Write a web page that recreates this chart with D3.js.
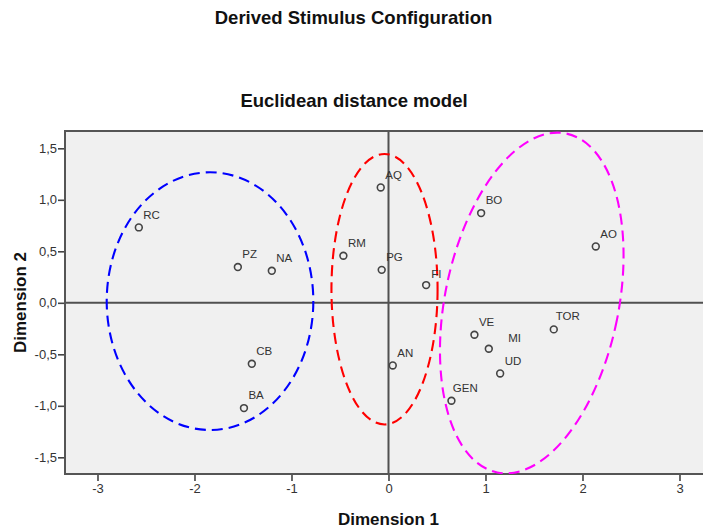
<!DOCTYPE html>
<html>
<head>
<meta charset="utf-8">
<script src="https://cdn.jsdelivr.net/npm/d3@7"></script>
<style>
  html, body { margin: 0; padding: 0; background: #fff; }
  svg { display: block; font-family: Arial, "Liberation Sans", Helvetica, sans-serif; }
</style>
</head>
<body>
<script>
// ---- data ----
const stimuli = ["RC", "PZ", "NA", "RM", "AQ", "PG", "FI", "BO", "AO", "VE", "TOR", "MI", "UD", "AN", "GEN", "CB", "BA"];
const dim1 =    [-2.574, -1.553, -1.203, -0.465, -0.080, -0.070, 0.388, 0.955, 2.137, 0.886, 1.704, 1.034, 1.151, 0.044, 0.649, -1.409, -1.490];
const dim2 =    [0.732, 0.347, 0.311, 0.457, 1.120, 0.320, 0.172, 0.871, 0.547, -0.310, -0.258, -0.446, -0.686, -0.608, -0.951, -0.592, -1.022];

// cluster ellipses (data units): centre, radii, rotation (degrees)
const ellipseNames = ["west", "centre", "east"];
const ellipseCx =    [-1.840, -0.041, 1.477];
const ellipseCy =    [0.016, 0.132, -0.002];
const ellipseRx =    [1.065, 0.547, 0.895];
const ellipseRy =    [1.251, 1.313, 1.679];
const ellipseRot =   [0, 0, 11.5];
const ellipseColors = ["#0000ff", "#ff0000", "#ff00ff"];

const xTicks = [-3, -2, -1, 0, 1, 2, 3];
const xTickLabels = ["-3", "-2", "-1", "0", "1", "2", "3"];
const yTicks = [-1.5, -1.0, -0.5, 0.0, 0.5, 1.0, 1.5];
const yTickLabels = ["-1,5", "-1,0", "-0,5", "0,0", "0,5", "1,0", "1,5"];

const xDomain = [-3.335, 3.32];
const yDomain = [-1.662, 1.668];

const mainTitle = "Derived Stimulus Configuration";
const subTitle = "Euclidean distance model";
const xTitle = "Dimension 1";
const yTitle = "Dimension 2";

// ---- layout ----
const W = 703, H = 530;
const plot = { left: 65, top: 131, bottom: 474 };
const pxPerX = 97;
plot.right = plot.left + (xDomain[1] - xDomain[0]) * pxPerX;

const svg = d3.select("body").append("svg").attr("width", W).attr("height", H);

const x = d3.scaleLinear().domain(xDomain).range([plot.left, plot.right]);
const y = d3.scaleLinear().domain(yDomain).range([plot.bottom, plot.top]);

// titles
svg.append("text").attr("x", 353.5).attr("y", 24).attr("text-anchor", "middle")
  .attr("font-size", "18.5px").attr("font-weight", "bold").attr("fill", "#111").text(mainTitle);
svg.append("text").attr("x", 354).attr("y", 106.5).attr("text-anchor", "middle")
  .attr("font-size", "18.5px").attr("font-weight", "bold").attr("fill", "#111").text(subTitle);

// plot background
svg.append("rect").attr("x", plot.left).attr("y", plot.top)
  .attr("width", plot.right - plot.left).attr("height", plot.bottom - plot.top)
  .attr("fill", "#f0f0f0");

svg.append("clipPath").attr("id", "clip").append("rect")
  .attr("x", plot.left).attr("y", plot.top)
  .attr("width", plot.right - plot.left).attr("height", plot.bottom - plot.top);

// reference lines
const g = svg.append("g").attr("clip-path", "url(#clip)");
g.append("line").attr("x1", x(0)).attr("x2", x(0)).attr("y1", plot.top).attr("y2", plot.bottom)
  .attr("stroke", "#505050").attr("stroke-width", 2);
g.append("line").attr("x1", plot.left).attr("x2", plot.right).attr("y1", y(0)).attr("y2", y(0))
  .attr("stroke", "#505050").attr("stroke-width", 2);

// axes
const xAxis = d3.axisBottom(x).tickValues(xTicks).tickSize(7).tickPadding(3)
  .tickFormat((d, i) => xTickLabels[i]);
const yAxis = d3.axisLeft(y).tickValues(yTicks).tickSize(7).tickPadding(1)
  .tickFormat((d, i) => yTickLabels[i]);

const gx = svg.append("g").attr("transform", `translate(0,${plot.bottom})`).call(xAxis);
const gy = svg.append("g").attr("transform", `translate(${plot.left},0)`).call(yAxis);
[gx, gy].forEach(ax => {
  ax.select(".domain").remove();
  ax.selectAll(".tick line").attr("stroke", "#444").attr("stroke-width", 1.6);
  ax.selectAll(".tick text").attr("font-size", "13px").attr("fill", "#333")
    .attr("font-family", "Arial, 'Liberation Sans', sans-serif");
});

// plot frame (left, top, bottom)
svg.append("path")
  .attr("d", `M${plot.right},${plot.top}H${plot.left}V${plot.bottom}H${plot.right}`)
  .attr("fill", "none").attr("stroke", "#555").attr("stroke-width", 2);

// axis titles
svg.append("text").attr("x", x(0)).attr("y", 525).attr("text-anchor", "middle")
  .attr("font-size", "17px").attr("font-weight", "bold").attr("fill", "#111").text(xTitle);
svg.append("text").attr("transform", `translate(26,${(plot.top + plot.bottom) / 2}) rotate(-90)`)
  .attr("text-anchor", "middle")
  .attr("font-size", "17px").attr("font-weight", "bold").attr("fill", "#111").text(yTitle);

// ellipses
const eg = svg.append("g").attr("clip-path", "url(#clip)");
ellipseNames.forEach((n, i) => {
  const cx = x(ellipseCx[i]), cy = y(ellipseCy[i]);
  eg.append("ellipse")
    .attr("cx", cx).attr("cy", cy)
    .attr("rx", x(ellipseCx[i] + ellipseRx[i]) - cx)
    .attr("ry", cy - y(ellipseCy[i] + ellipseRy[i]))
    .attr("transform", `rotate(${ellipseRot[i]},${cx},${cy})`)
    .attr("fill", "none").attr("stroke", ellipseColors[i]).attr("stroke-width", 2.1)
    .attr("stroke-dasharray", "11,6");
});

// points
const pts = stimuli.map((s, i) => ({ name: s, d1: dim1[i], d2: dim2[i] }));
svg.append("g").selectAll("circle").data(pts).join("circle")
  .attr("cx", d => x(d.d1)).attr("cy", d => y(d.d2)).attr("r", 3.4)
  .attr("fill", "none").attr("stroke", "#444").attr("stroke-width", 1.6);

// labels (label placement nudges, pixels)
const nudge = { MI: [19.5, -6.5], TOR: [2, -9.3], GEN: [1.4, -8.7], FI: [5, -6.8] };
svg.append("g").selectAll("text").data(pts).join("text")
  .attr("x", d => x(d.d1) + (nudge[d.name] ? nudge[d.name][0] : 4.5))
  .attr("y", d => y(d.d2) + (nudge[d.name] ? nudge[d.name][1] : -8.7))
  .attr("font-size", "11.5px").attr("fill", "#333").text(d => d.name);
</script>
</body>
</html>
